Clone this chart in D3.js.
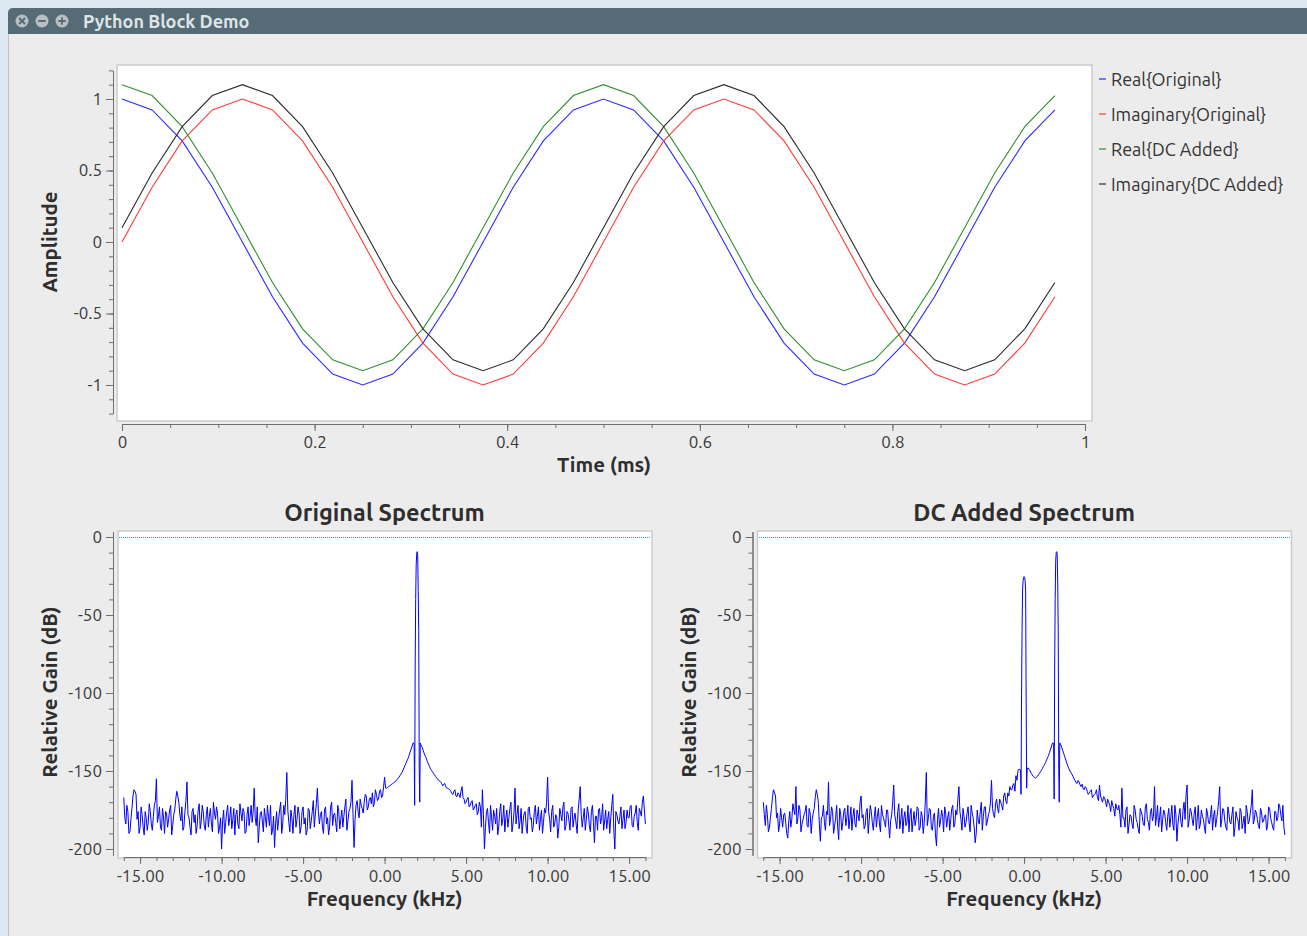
<!DOCTYPE html>
<html><head><meta charset="utf-8">
<script src="https://cdn.jsdelivr.net/npm/d3@7"></script>
<style>
html,body{margin:0;padding:0;background:#dde8f2;overflow:hidden;}
svg{display:block;}
</style></head><body>
<svg id="c" width="1307" height="936"></svg>
<script>
// ---------------- DATA ----------------
const windowTitle = "Python Block Demo";
const timeMs = [0,0.03125,0.0625,0.09375,0.125,0.15625,0.1875,0.21875,0.25,0.28125,0.3125,0.34375,0.375,0.40625,0.4375,0.46875,
  0.5,0.53125,0.5625,0.59375,0.625,0.65625,0.6875,0.71875,0.75,0.78125,0.8125,0.84375,0.875,0.90625,0.9375,0.96875];
const realOriginal = [1,0.924,0.707,0.383,0,-0.383,-0.707,-0.924,-1,-0.924,-0.707,-0.383,0,0.383,0.707,0.924,
  1,0.924,0.707,0.383,0,-0.383,-0.707,-0.924,-1,-0.924,-0.707,-0.383,0,0.383,0.707,0.924];
const imagOriginal = [0,0.383,0.707,0.924,1,0.924,0.707,0.383,0,-0.383,-0.707,-0.924,-1,-0.924,-0.707,-0.383,
  0,0.383,0.707,0.924,1,0.924,0.707,0.383,0,-0.383,-0.707,-0.924,-1,-0.924,-0.707,-0.383];
const realDCAdded = [1.1,1.024,0.807,0.483,0.1,-0.283,-0.607,-0.824,-0.9,-0.824,-0.607,-0.283,0.1,0.483,0.807,1.024,
  1.1,1.024,0.807,0.483,0.1,-0.283,-0.607,-0.824,-0.9,-0.824,-0.607,-0.283,0.1,0.483,0.807,1.024];
const imagDCAdded = [0.1,0.483,0.807,1.024,1.1,1.024,0.807,0.483,0.1,-0.283,-0.607,-0.824,-0.9,-0.824,-0.607,-0.283,
  0.1,0.483,0.807,1.024,1.1,1.024,0.807,0.483,0.1,-0.283,-0.607,-0.824,-0.9,-0.824,-0.607,-0.283];
const seriesNames = ["Real{Original}","Imaginary{Original}","Real{DC Added}","Imaginary{DC Added}"];
const seriesColors = ["#2b2bff","#ff3a3a","#2f8f2f","#2a2a2a"];

const timeTickValues = [0,0.2,0.4,0.6,0.8,1];
const timeTickLabels = ["0","0.2","0.4","0.6","0.8","1"];
const ampTickValues = [-1,-0.5,0,0.5,1];
const ampTickLabels = ["-1","-0.5","0","0.5","1"];
const freqTickValues = [-15,-10,-5,0,5,10,15];
const freqTickLabels = ["-15.00","-10.00","-5.00","0.00","5.00","10.00","15.00"];
const gainTickValues = [-200,-150,-100,-50,0];
const gainTickLabels = ["-200","-150","-100","-50","0"];

// spectrum bins: every 0.125 kHz from -16 kHz (grid) and half-way between (mid);
// null = covered by the fine peak arrays
const binStartKHz = -16, binStepKHz = 0.125;
const originalGain = [
 -167,-184,-176,-189,-174,-162,-165,-176,-186,-178,-191,-180,-183,-176,-188,-172,
 -155,-179,-186,-174,-190,-177,-181,-172,-185,-175,-163,-170,-182,-188,-176,-157,
 -180,-191,-174,-178,-185,-171,-182,-176,-188,-173,-179,-184,-170,-181,-177,-186,
 -200,-175,-183,-172,-180,-187,-174,-178,-184,-171,-182,-176,-189,-173,-179,-183,
 -161,-185,-196,-177,-182,-174,-186,-179,-172,-188,-199,-176,-181,-170,-184,-178,
 -151,-183,-175,-190,-172,-181,-177,-186,-173,-180,-188,-175,-182,-169,-178,-161,
 -184,-176,-190,-173,-180,-186,-170,-178,-183,-172,-187,-175,-179,-168,-182,-174,
 -156,-199,-172,-176,-168,-174,-170,-166,-173,-167,-164,-170,-165,-168,-162,-166,
 -154,-161,-160,-159,-158,-157,-155.5,-154,-152,-149.5,-146.5,-143.5,-140,-136,-132,null,
 null,null,-133.5,-137,-140.5,-144,-147,-149.5,-151.5,-153.5,-155,-156.5,-158,-158.5,-160,-161,
 -162,-164.5,-163,-166,-164,-167,-160,-168,-170,-167,-172,-169,-174,-171,-176,-173,
 -162,-200,-176,-183,-172,-188,-179,-174,-186,-171,-181,-189,-175,-180,-170,-184,
 -161,-178,-187,-174,-182,-176,-190,-173,-180,-185,-172,-179,-188,-175,-183,-177,
 -154,-181,-176,-186,-178,-193,-174,-182,-170,-185,-177,-188,-173,-180,-184,-175,
 -160,-186,-174,-181,-177,-189,-172,-196,-179,-175,-184,-171,-182,-187,-176,-180,
 -165,-200,-178,-184,-173,-181,-187,-175,-180,-172,-186,-177,-183,-174,-179,-166,
 -184];
const originalGainMid = [
 -180,-172,-190,-181,-166,-163,-181,-190,-173,-186,-176,-188,-171,-184,-179,-169,
 -183,-173,-188,-180,-176,-186,-175,-191,-178,-168,-166,-178,-173,-186,-169,-178,
 -186,-176,-183,-190,-175,-187,-172,-185,-178,-186,-174,-189,-177,-173,-190,-180,
 -182,-190,-176,-185,-173,-181,-191,-175,-187,-177,-174,-190,-178,-185,-172,-176,
 -180,-173,-186,-176,-189,-180,-172,-185,-191,-179,-184,-188,-175,-190,-172,-168,
 -175,-189,-180,-178,-186,-173,-190,-176,-184,-191,-174,-187,-176,-186,-171,-176,
 -178,-186,-175,-184,-191,-173,-185,-177,-189,-176,-181,-186,-173,-188,-176,-170,
 -178,-181,-169,-180,-172,-177,-165,-175,-168,-171,-173,-162,-169,-163,-167,-160,
 -161,-160.5,-159.5,-158.5,-157.5,-156.5,-155,-153,-151,-148,-145,-142,-138,-134,null,null,
 null,null,-135,-139,-142,-145.5,-148.5,-150.5,-152.5,-154.5,-156,-157,-159.5,-158,-161,-161.5,
 -163,-165,-162,-166.5,-165,-163,-167,-171,-168,-173,-170,-175,-172,-178,-170,-186,
 -178,-186,-174,-190,-180,-175,-184,-191,-176,-185,-172,-180,-186,-174,-189,-177,
 -184,-172,-182,-190,-177,-186,-174,-181,-189,-176,-184,-173,-181,-190,-174,-170,
 -176,-189,-172,-184,-180,-186,-178,-173,-188,-176,-182,-174,-186,-177,-190,-168,
 -178,-180,-188,-173,-185,-176,-183,-179,-188,-174,-180,-188,-175,-181,-190,-172,
 -188,-176,-182,-179,-187,-175,-183,-180,-173,-185,-179,-172,-188,-176,-170,-175];
const originalPeakFreq = [1.78125,1.8125,1.84375,1.875,1.90625,1.9375,1.96875,2,2.03125,2.0625,2.09375,2.125,2.15625,2.1875,2.21875];
const originalPeakGain = [-132,-133,-172,-84,-40,-18,-11,-9.4,-12,-35,-60,-149,-170,-132,-133];

const dcAddedGain = [
 -170,-185,-178,-186,-174,-162,-166,-177,-184,-180,-178,-183,-193,-176,-181,-175,
 -160,-180,-175,-184,-178,-172,-186,-177,-181,-174,-162,-170,-195,-179,-183,-176,
 -157,-181,-176,-185,-172,-194,-178,-183,-174,-180,-187,-173,-179,-184,-175,-182,
 -166,-178,-185,-174,-181,-176,-188,-173,-179,-184,-172,-180,-186,-175,-193,-178,
 -159,-182,-176,-187,-174,-180,-185,-172,-178,-189,-176,-181,-174,-186,-179,-183,
 -151,-180,-175,-188,-177,-198,-174,-182,-179,-173,-186,-176,-181,-172,-184,-178,
 -160,-181,-174,-186,-177,-183,-172,-180,-196,-175,-184,-170,-179,-173,-182,-176,
 -156,-178,-171,-174,-168,-172,-166,-169,-164,-160,-162,-158,-153,-149.5,-149,null,
 null,null,-148,-150,-152.5,-154,-154,-152.5,-150.5,-148.5,-146,-143,-140,-136,-132,null,
 null,null,-133,-137,-141,-145,-148.5,-151,-153.5,-156,-158,-157,-160,-161.5,-160,-163,
 -164,-162,-166,-164.5,-167,-159,-168,-166.5,-170,-168,-172,-169,-174,-171,-175,-178,
 -161,-180,-175,-190,-178,-184,-172,-181,-187,-174,-179,-185,-171,-183,-176,-182,
 -160,-179,-186,-173,-181,-177,-188,-174,-180,-184,-172,-195,-178,-183,-175,-181,
 -159,-182,-176,-185,-173,-180,-187,-175,-181,-190,-177,-184,-172,-179,-186,-176,
 -160,-181,-175,-186,-173,-183,-178,-192,-176,-182,-174,-187,-179,-172,-184,-177,
 -162,-181,-177,-185,-174,-183,-179,-188,-173,-180,-186,-176,-182,-171,-178,-172,
 -191];
const dcAddedGainMid = [
 -178,-172,-189,-180,-167,-164,-180,-189,-174,-186,-177,-190,-182,-186,-171,-178,
 -184,-172,-189,-181,-176,-185,-174,-190,-177,-167,-165,-184,-180,-172,-188,-178,
 -185,-173,-190,-180,-186,-174,-188,-176,-185,-172,-181,-188,-174,-186,-178,-170,
 -180,-187,-176,-190,-172,-183,-179,-186,-174,-189,-178,-183,-175,-184,-182,-170,
 -178,-187,-171,-181,-190,-176,-183,-189,-174,-182,-185,-173,-188,-176,-190,-170,
 -185,-174,-187,-179,-191,-181,-186,-175,-189,-177,-180,-188,-174,-186,-175,-168,
 -176,-188,-179,-183,-173,-189,-177,-186,-190,-182,-176,-188,-173,-185,-178,-170,
 -174,-180,-168,-177,-170,-175,-164,-171,-166,-162,-159,-163,-156,-149,null,null,
 null,null,-149,-151.5,-153.5,-154.5,-153.5,-151.5,-149.5,-147,-144.5,-141.5,-138,-134,null,null,
 null,null,-135,-139,-143,-147,-150,-152,-155,-157.5,-156,-159,-158.5,-162,-161,-165,
 -163,-167,-165,-162,-169,-166,-170,-167,-173,-170,-176,-172,-179,-174,-172,-186,
 -180,-186,-173,-184,-179,-187,-175,-183,-190,-176,-184,-173,-181,-188,-174,-179,
 -185,-172,-180,-189,-175,-183,-179,-186,-172,-188,-178,-184,-174,-186,-170,-165,
 -186,-174,-181,-177,-188,-172,-184,-179,-186,-174,-183,-178,-188,-175,-181,-169,
 -186,-174,-182,-188,-177,-184,-173,-186,-180,-188,-176,-183,-190,-176,-182,-172,
 -184,-175,-181,-187,-176,-182,-178,-185,-174,-183,-188,-176,-180,-173,-182,-186];
const dcAddedPeakFreq = [-0.21875,-0.1875,-0.15625,-0.125,-0.09375,-0.0625,-0.03125,0,0.03125,0.0625,0.09375,0.125,0.15625,0.1875,0.21875,
  1.78125,1.8125,1.84375,1.875,1.90625,1.9375,1.96875,2,2.03125,2.0625,2.09375,2.125,2.15625,2.1875,2.21875];
const dcAddedPeakGain = [-150,-165,-101,-60,-34,-28,-26,-25.4,-26,-28,-34,-102,-161,-148,-148.5,
  -132,-133,-168,-84,-40,-16,-10,-9.4,-11,-30,-60,-149,-170,-132,-133];

// ---------------- DRAW ----------------
const svg = d3.select("#c");
const FONT = "Ubuntu, 'Noto Sans', 'Open Sans', sans-serif";
const TXT = "#3a3a3a";
const AXC = "#6e6e6e";
const TICKFS = 17, AXISFS = 20.5, TITLEFS = 23.5, LEGFS = 18;

// window
svg.append("rect").attr("x",8).attr("y",8).attr("width",1310).attr("height",940).attr("fill","#ececec").attr("rx",4);
svg.append("path").attr("d","M8,34 L8,13 Q8,8 13,8 L1307,8 L1307,34 Z").attr("fill","#556b76");
svg.append("line").attr("x1",8.5).attr("x2",8.5).attr("y1",34).attr("y2",936).attr("stroke","#b9c3ca");
[22,42,62].forEach((cx,i)=>{
  svg.append("circle").attr("cx",cx).attr("cy",21).attr("r",6.5).attr("fill","#b9bfc3");
  const g = svg.append("g").attr("stroke","#556b76").attr("stroke-width",1.8).attr("stroke-linecap","round");
  if(i===0){ g.append("line").attr("x1",cx-2.5).attr("y1",18.5).attr("x2",cx+2.5).attr("y2",23.5);
             g.append("line").attr("x1",cx+2.5).attr("y1",18.5).attr("x2",cx-2.5).attr("y2",23.5); }
  if(i>=1){ g.append("line").attr("x1",cx-3).attr("y1",21).attr("x2",cx+3).attr("y2",21); }
  if(i===2){ g.append("line").attr("x1",cx).attr("y1",18).attr("x2",cx).attr("y2",24); }
});
svg.append("text").attr("x",83).attr("y",27.5).attr("font-family",FONT).attr("font-weight","bold")
  .attr("font-size",18).attr("fill","#dfe4e7").text(windowTitle);

function canvasRect(x0,y0,x1,y1){
  svg.append("rect").attr("x",x0).attr("y",y0).attr("width",x1-x0).attr("height",y1-y0)
    .attr("fill","#ffffff").attr("stroke","#cbcbcb").attr("stroke-width",1.5);
}
function styleAxis(g){
  g.selectAll("path.domain").attr("stroke",AXC);
  g.selectAll(".tick line").attr("stroke",AXC);
  g.selectAll(".tick text").attr("fill",TXT).attr("font-family",FONT).attr("font-size",TICKFS);
}
function leftAxis(scale,x,vals,labels,minor){
  const gm = svg.append("g").attr("transform",`translate(${x},0)`)
    .call(d3.axisLeft(scale).tickValues(minor).tickFormat("").tickSize(4).tickSizeOuter(0));
  styleAxis(gm);
  const g = svg.append("g").attr("transform",`translate(${x},0)`)
    .call(d3.axisLeft(scale).tickValues(vals).tickFormat((d,i)=>labels[i]).tickSize(7).tickPadding(4).tickSizeOuter(0));
  styleAxis(g);
}
function bottomAxis(scale,y,vals,labels,minor,pad){
  const gm = svg.append("g").attr("transform",`translate(0,${y})`)
    .call(d3.axisBottom(scale).tickValues(minor).tickFormat("").tickSize(4).tickSizeOuter(0));
  styleAxis(gm);
  const g = svg.append("g").attr("transform",`translate(0,${y})`)
    .call(d3.axisBottom(scale).tickValues(vals).tickFormat((d,i)=>labels[i]).tickSize(7).tickPadding(pad).tickSizeOuter(0));
  styleAxis(g);
}
function label(x,y,txt,size,rot){
  const t = svg.append("text").attr("font-family",FONT).attr("font-weight","bold").attr("font-size",size)
    .attr("fill","#2e2e2e").attr("text-anchor","middle").attr("dominant-baseline","central").text(txt);
  if(rot) t.attr("transform",`translate(${x},${y}) rotate(-90)`); else t.attr("x",x).attr("y",y);
}

// ---- top time plot ----
canvasRect(117,65,1092,421);
const xT = d3.scaleLinear().domain([0,1]).range([122,1085]);
const yT = d3.scaleLinear().domain([-1.2,1.2]).range([413.6,70.4]);
leftAxis(yT,113,ampTickValues,ampTickLabels,d3.range(-12,13).map(v=>v/10));
bottomAxis(xT,424,timeTickValues,timeTickLabels,d3.range(0,21).map(v=>v/20),5);
label(604,464,"Time (ms)",AXISFS,false);
label(49,242,"Amplitude",AXISFS,true);
const timeSeries = [realOriginal,imagOriginal,realDCAdded,imagDCAdded];
const lineT = d3.line().x((d,i)=>xT(timeMs[i])).y(d=>yT(d));
timeSeries.forEach((s,k)=>{
  svg.append("path").attr("d",lineT(s)).attr("fill","none").attr("stroke",seriesColors[k]).attr("stroke-width",1.1);
});
// legend
seriesNames.forEach((n,k)=>{
  const y = 79 + k*35;
  svg.append("line").attr("x1",1099).attr("x2",1106).attr("y1",y).attr("y2",y).attr("stroke",seriesColors[k]).attr("stroke-width",1.2);
  svg.append("text").attr("x",1111).attr("y",y).attr("dominant-baseline","central").attr("font-family",FONT)
    .attr("font-size",LEGFS).attr("fill","#333").text(n);
});

// ---- spectra ----
function spectrumPoints(grid,mid,pf,pg){
  const pts = [];
  grid.forEach((v,i)=>{ if(v!==null) pts.push([binStartKHz + i*binStepKHz, v]); });
  mid.forEach((v,i)=>{ if(v!==null) pts.push([binStartKHz + (i+0.5)*binStepKHz, v]); });
  pf.forEach((f,i)=>pts.push([f,pg[i]]));
  pts.sort((a,b)=>a[0]-b[0]);
  return pts;
}
function spectrum(dx,title,grid,mid,pf,pg,clipId){
  const x0 = 118+dx, x1 = 652+dx;
  canvasRect(x0,531,x1,858);
  const xS = d3.scaleLinear().domain([-16,16]).range([123.8+dx,645.4+dx]);
  const yS = d3.scaleLinear().domain([-204,3.5]).range([855.24,531.54]);
  leftAxis(yS,113+dx,gainTickValues,gainTickLabels,d3.range(-200,1,10));
  bottomAxis(xS,857,freqTickValues,freqTickLabels,d3.range(-16,17,1),6);
  label(384.6+dx,512,title,TITLEFS,false);
  label(384.6+dx,898,"Frequency (kHz)",AXISFS,false);
  label(49+dx,692,"Relative Gain (dB)",AXISFS,true);
  svg.append("clipPath").attr("id",clipId).append("rect").attr("x",x0+1).attr("y",532).attr("width",x1-x0-2).attr("height",325);
  const gC = svg.append("g").attr("clip-path",`url(#${clipId})`);
  // dotted reference line at 0 dB
  const lx0 = Math.round(x0)+1, lx1 = Math.round(x1)-1;
  gC.append("line").attr("x1",lx0).attr("x2",lx1).attr("y1",537.5).attr("y2",537.5)
    .attr("stroke","#14b0bc").attr("stroke-width",1).attr("stroke-dasharray","1,1");
  const pts = spectrumPoints(grid,mid,pf,pg);
  gC.append("path").attr("d",d3.line().x(d=>xS(d[0])).y(d=>yS(d[1]))(pts))
    .attr("fill","none").attr("stroke","#0000ff").attr("stroke-width",1);
}
spectrum(0,"Original Spectrum",originalGain,originalGainMid,originalPeakFreq,originalPeakGain,"clipA");
spectrum(639.5,"DC Added Spectrum",dcAddedGain,dcAddedGainMid,dcAddedPeakFreq,dcAddedPeakGain,"clipB");
</script>
</body></html>
